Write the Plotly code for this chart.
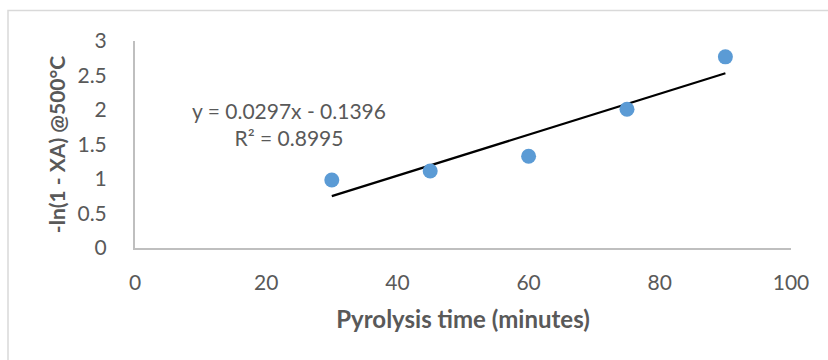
import plotly.graph_objects as go

time_min = [30, 45, 60, 75, 90]
ln_vals = [0.985, 1.115, 1.33, 2.01, 2.77]
slope = 0.0297
intercept = -0.1396
trend_x = [30, 90]
trend_y = [slope * x + intercept for x in trend_x]

FONT = "Lato"
GRAY = "#595959"

fig = go.Figure()
fig.add_trace(go.Scatter(x=trend_x, y=trend_y, mode="lines",
                         line=dict(color="black", width=2.2), hoverinfo="skip"))
fig.add_trace(go.Scatter(x=time_min, y=ln_vals, mode="markers",
                         marker=dict(color="#5B9BD5", size=15, line=dict(width=0))))

fig.add_annotation(x=23.5, y=1.8, xref="x", yref="y",
                   text="y = 0.0297x - 0.1396<br>R² = 0.8995",
                   showarrow=False, align="center",
                   font=dict(family=FONT, size=21, color=GRAY))

fig.add_shape(type="rect", xref="paper", yref="paper",
              x0=-0.1936, x1=1.2, y0=-0.6, y1=1.1473,
              line=dict(color="#d9d9d9", width=1.5), layer="below")

fig.update_layout(
    width=828, height=360,
    margin=dict(l=135, r=37, t=41, b=112),
    plot_bgcolor="white", paper_bgcolor="white",
    showlegend=False,
    font=dict(family=FONT, color=GRAY, size=21),
    xaxis=dict(range=[0, 100], tickvals=[0, 20, 40, 60, 80, 100],
               showgrid=False, zeroline=False, showline=True,
               linecolor="#bfbfbf", linewidth=2, ticks="",
               ticklabelstandoff=15,
               tickfont=dict(family=FONT, size=21, color=GRAY),
               title=dict(text="Pyrolysis time (minutes)",
                          font=dict(family=FONT, size=24, color=GRAY, weight="bold"),
                          standoff=18)),
    yaxis=dict(range=[0, 3], tickvals=[0, 0.5, 1, 1.5, 2, 2.5, 3],
               ticktext=["0", "0.5", "1", "1.5", "2", "2.5", "3"],
               showgrid=False, zeroline=False, showline=True,
               linecolor="#bfbfbf", linewidth=2, ticks="",
               ticklabelstandoff=22,
               tickfont=dict(family=FONT, size=21, color=GRAY),
               title=dict(text="-ln(1 - XA) @500°C",
                          font=dict(family=FONT, size=21, color=GRAY, weight="bold"),
                          standoff=6)),
)

fig.write_html("out.html")
